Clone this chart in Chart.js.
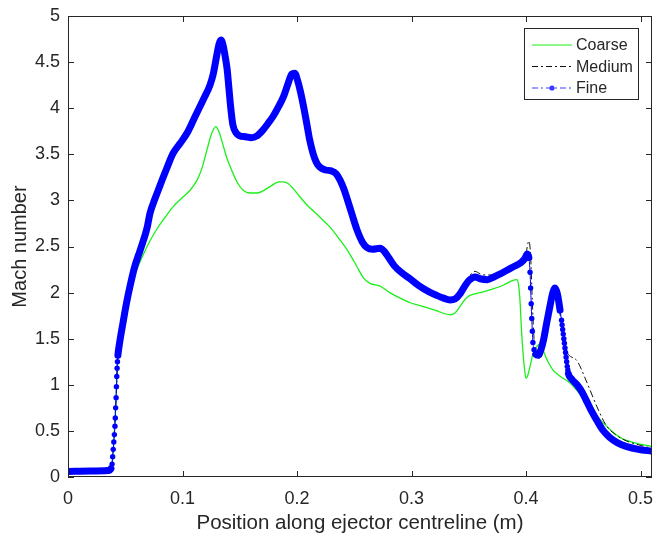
<!DOCTYPE html>
<html>
<head>
<meta charset="utf-8">
<script src="https://cdn.jsdelivr.net/npm/chart.js@4.4.1/dist/chart.umd.min.js"></script>
<style>
  html, body { margin: 0; padding: 0; background: #fff; }
  canvas { display: block; }
</style>
</head>
<body>
<canvas id="machChart" width="653" height="537"></canvas>
<script>
// axis ticks
const xTicks = [0, 0.1, 0.2, 0.3, 0.4, 0.5];
const yTicks = [0, 0.5, 1, 1.5, 2, 2.5, 3, 3.5, 4, 4.5, 5];

const seriesNames = ["Coarse", "Medium", "Fine"];

// Mach number along the centreline, coarse mesh
const coarseX = [0, 0.02, 0.035, 0.0375, 0.0385, 0.04, 0.042, 0.0436, 0.048, 0.054,
  0.06, 0.066, 0.072, 0.0777, 0.085, 0.0917, 0.099, 0.1066, 0.1127, 0.117,
  0.1214, 0.125, 0.129, 0.132, 0.1354, 0.1385, 0.1415, 0.1476, 0.153, 0.159,
  0.165, 0.1764, 0.184, 0.188, 0.1925, 0.1965, 0.2025, 0.2087, 0.219, 0.2288,
  0.2376, 0.245, 0.2524, 0.258, 0.2637, 0.2725, 0.281, 0.29, 0.2987, 0.3074,
  0.3205, 0.3336, 0.338, 0.3424, 0.347, 0.351, 0.36, 0.3712, 0.38, 0.388,
  0.392, 0.3935, 0.3948, 0.396, 0.3974, 0.399, 0.4, 0.4015, 0.4035, 0.406,
  0.4096, 0.412, 0.414, 0.418, 0.4236, 0.43, 0.4384, 0.445, 0.453, 0.4672,
  0.482, 0.495, 0.51];
const coarseY = [0.06, 0.065, 0.07, 0.09, 0.14, 0.38, 0.86, 1.32, 1.67, 2.06,
  2.25, 2.42, 2.57, 2.69, 2.82, 2.93, 3.02, 3.11, 3.22, 3.35,
  3.55, 3.71, 3.80, 3.74, 3.60, 3.47, 3.37, 3.20, 3.11, 3.08,
  3.08, 3.15, 3.20, 3.20, 3.18, 3.13, 3.04, 2.95, 2.83, 2.71,
  2.57, 2.44, 2.28, 2.16, 2.10, 2.07, 2.00, 1.94, 1.89, 1.86,
  1.81, 1.76, 1.78, 1.85, 1.93, 1.97, 2.00, 2.04, 2.08, 2.13,
  2.14, 2.08, 1.90, 1.60, 1.34, 1.14, 1.07, 1.10, 1.20, 1.33,
  1.42, 1.44, 1.40, 1.28, 1.16, 1.09, 1.02, 0.93, 0.80, 0.59,
  0.43, 0.37, 0.33];

// medium mesh
const mediumX = [0, 0.02, 0.035, 0.0375, 0.0385, 0.04, 0.042, 0.0436, 0.048, 0.054,
  0.058, 0.063, 0.069, 0.0716, 0.076, 0.08, 0.086, 0.0917, 0.098, 0.104,
  0.111, 0.118, 0.123, 0.127, 0.13, 0.132, 0.1335, 0.1355, 0.137, 0.139,
  0.1405, 0.142, 0.144, 0.147, 0.15, 0.155, 0.16, 0.165, 0.17, 0.175,
  0.179, 0.184, 0.188, 0.192, 0.196, 0.1988, 0.2012, 0.204, 0.207, 0.2095,
  0.212, 0.215, 0.218, 0.221, 0.226, 0.231, 0.235, 0.2385, 0.2415, 0.2445,
  0.2485, 0.253, 0.2575, 0.2615, 0.2665, 0.273, 0.2765, 0.2805, 0.2855, 0.2905,
  0.299, 0.3075, 0.3155, 0.3225, 0.3285, 0.334, 0.3385, 0.3425, 0.3465, 0.3505,
  0.3555, 0.3605, 0.3665, 0.3725, 0.3775, 0.3835, 0.3895, 0.3955, 0.3995, 0.4025,
  0.404, 0.4055, 0.407, 0.4095, 0.412, 0.416, 0.42, 0.4245, 0.428, 0.431,
  0.4335, 0.437, 0.4445, 0.453, 0.462, 0.47, 0.478, 0.488, 0.498, 0.51];
const mediumY = [0.06, 0.065, 0.07, 0.09, 0.14, 0.38, 0.86, 1.32, 1.67, 2.06,
  2.27, 2.46, 2.70, 2.86, 3.02, 3.15, 3.34, 3.51, 3.62, 3.73,
  3.91, 4.09, 4.20, 4.38, 4.60, 4.73, 4.77, 4.70, 4.60, 4.44,
  4.24, 4.04, 3.84, 3.74, 3.71, 3.70, 3.69, 3.71, 3.76, 3.83,
  3.89, 3.99, 4.09, 4.22, 4.33, 4.36, 4.29, 4.14, 3.95, 3.78,
  3.62, 3.48, 3.40, 3.37, 3.35, 3.34, 3.30, 3.23, 3.13, 3.03,
  2.86, 2.69, 2.56, 2.50, 2.48, 2.49, 2.46, 2.39, 2.30, 2.24,
  2.16, 2.08, 2.02, 1.98, 1.95, 1.94, 1.95, 2.01, 2.10, 2.18,
  2.23, 2.20, 2.19, 2.20, 2.23, 2.26, 2.30, 2.34, 2.40, 2.56,
  2.40, 1.90, 1.50, 1.35, 1.28, 1.45, 1.78, 2.03, 1.95, 1.62,
  1.42, 1.33, 1.26, 1.03, 0.76, 0.56, 0.46, 0.39, 0.35, 0.31];

// fine mesh
const fineX = [0, 0.02, 0.035, 0.0375, 0.0385, 0.039, 0.0395, 0.04, 0.0405, 0.041,
  0.0413, 0.0416, 0.042, 0.0423, 0.0426, 0.0429, 0.0432, 0.0436, 0.045, 0.048,
  0.051, 0.054, 0.058, 0.063, 0.069, 0.0716, 0.076, 0.08, 0.086, 0.0917,
  0.098, 0.104, 0.111, 0.118, 0.124, 0.127, 0.13, 0.132, 0.1336, 0.1355,
  0.137, 0.139, 0.1405, 0.142, 0.144, 0.147, 0.15, 0.155, 0.16, 0.165,
  0.17, 0.175, 0.179, 0.184, 0.188, 0.192, 0.1955, 0.198, 0.2005, 0.203,
  0.206, 0.2087, 0.211, 0.214, 0.217, 0.22, 0.225, 0.23, 0.234, 0.2376,
  0.241, 0.2437, 0.248, 0.2524, 0.257, 0.261, 0.266, 0.2725, 0.276, 0.28,
  0.285, 0.29, 0.2987, 0.307, 0.315, 0.322, 0.328, 0.3336, 0.338, 0.342,
  0.346, 0.35, 0.3555, 0.36, 0.366, 0.372, 0.377, 0.383, 0.389, 0.395,
  0.399, 0.401, 0.4025, 0.4035, 0.404, 0.4045, 0.405, 0.4055, 0.406, 0.407,
  0.4085, 0.4105, 0.413, 0.4155, 0.418, 0.421, 0.423, 0.4253, 0.4275, 0.4297,
  0.431, 0.4315, 0.432, 0.4325, 0.433, 0.4335, 0.434, 0.4345, 0.435, 0.4355,
  0.436, 0.4365, 0.437, 0.44, 0.4445, 0.449,
  0.453, 0.457, 0.462, 0.467, 0.473, 0.48, 0.488, 0.498, 0.51];
const fineY = [0.06, 0.065, 0.07, 0.09, 0.14, 0.22, 0.30, 0.38, 0.46, 0.55,
  0.64, 0.75, 0.86, 0.98, 1.09, 1.18, 1.25, 1.32, 1.45, 1.67,
  1.88, 2.06, 2.27, 2.46, 2.70, 2.86, 3.02, 3.15, 3.34, 3.51,
  3.62, 3.73, 3.91, 4.09, 4.25, 4.38, 4.58, 4.70, 4.74, 4.68,
  4.58, 4.42, 4.22, 4.02, 3.82, 3.73, 3.70, 3.69, 3.68, 3.70,
  3.76, 3.84, 3.91, 4.02, 4.12, 4.26, 4.37, 4.38, 4.30, 4.18,
  4.00, 3.82, 3.66, 3.51, 3.41, 3.36, 3.33, 3.32, 3.29, 3.22,
  3.12, 3.02, 2.85, 2.68, 2.55, 2.49, 2.47, 2.48, 2.45, 2.38,
  2.29, 2.23, 2.15, 2.07, 2.01, 1.97, 1.94, 1.92, 1.93, 1.98,
  2.06, 2.13, 2.17, 2.15, 2.14, 2.17, 2.20, 2.24, 2.28, 2.32,
  2.37, 2.42, 2.38, 2.22, 2.05, 1.88, 1.72, 1.58, 1.46, 1.38,
  1.33, 1.32, 1.38, 1.50, 1.67, 1.86, 1.98, 2.05, 1.98, 1.81,
  1.70, 1.65, 1.60, 1.55, 1.50, 1.45, 1.40, 1.35, 1.30, 1.25,
  1.20, 1.16, 1.12, 1.06, 1.00, 0.92,
  0.82, 0.72, 0.61, 0.51, 0.43, 0.37, 0.33, 0.30, 0.28];

const toPoints = (xs, ys) => xs.map((x, i) => ({ x: x, y: ys[i] }));

// stretches where the fine-mesh samples are spread out, drawn as a thin line with dots
const sparseSpans = [[0.0375, 0.0437], [0.4025, 0.409], [0.4297, 0.4371]];
const inSparse = (a, b) => sparseSpans.some(s => a >= s[0] && b <= s[1]);

const INK = "#262626";
const FONT = "'Liberation Sans', Arial, Helvetica, sans-serif";
Chart.defaults.font.family = FONT;
Chart.defaults.color = INK;

// box round the plot with inward ticks on all four sides
const axesBox = {
  id: "axesBox",
  afterDatasetsDraw(chart) {
    const { ctx, chartArea: a, scales } = chart;
    const len = 6;
    ctx.save();
    ctx.strokeStyle = INK;
    ctx.lineWidth = 1;
    ctx.strokeRect(a.left + 0.5, a.top + 0.5, a.right - a.left - 1, a.bottom - a.top - 1);
    ctx.beginPath();
    xTicks.forEach(v => {
      const px = Math.round(scales.x.getPixelForValue(v)) + 0.5;
      ctx.moveTo(px, a.bottom); ctx.lineTo(px, a.bottom - len);
      ctx.moveTo(px, a.top); ctx.lineTo(px, a.top + len);
    });
    yTicks.forEach(v => {
      const py = Math.round(scales.y.getPixelForValue(v)) + 0.5;
      ctx.moveTo(a.left, py); ctx.lineTo(a.left + len, py);
      ctx.moveTo(a.right, py); ctx.lineTo(a.right - len, py);
    });
    ctx.stroke();
    ctx.restore();
  }
};

// legend box in the top right corner of the axes
const cornerLegend = {
  id: "cornerLegend",
  afterDraw(chart) {
    const { ctx, chartArea: a } = chart;
    const w = 115, h = 72;
    const x0 = a.right - 13 - w, y0 = a.top + 12;
    ctx.save();
    ctx.fillStyle = "#fff";
    ctx.fillRect(x0, y0, w, h);
    ctx.strokeStyle = INK;
    ctx.lineWidth = 1;
    ctx.strokeRect(x0 + 0.5, y0 + 0.5, w - 1, h - 1);
    seriesNames.forEach((name, i) => {
      const ds = chart.data.datasets.find(d => d.label === name);
      const cy = y0 + 17 + i * 21.5;
      const lx0 = x0 + 8, lx1 = x0 + 48;
      ctx.strokeStyle = ds.legendColor;
      ctx.lineWidth = 1.2;
      ctx.setLineDash(ds.legendDash);
      ctx.beginPath();
      ctx.moveTo(lx0, cy);
      ctx.lineTo(lx1, cy);
      ctx.stroke();
      ctx.setLineDash([]);
      if (ds.legendDot) {
        ctx.fillStyle = ds.legendColor;
        ctx.beginPath();
        ctx.arc((lx0 + lx1) / 2, cy, 2.6, 0, Math.PI * 2);
        ctx.fill();
      }
      ctx.fillStyle = INK;
      ctx.font = "16px " + FONT;
      ctx.textBaseline = "middle";
      ctx.textAlign = "left";
      ctx.fillText(name, lx1 + 4, cy + 1);
    });
    ctx.restore();
  }
};

new Chart(document.getElementById("machChart"), {
  type: "scatter",
  data: {
    datasets: [
      {
        label: seriesNames[2],
        data: toPoints(fineX, fineY),
        showLine: true,
        cubicInterpolationMode: "monotone",
        order: 0,
        borderColor: "#0000ff",
        borderWidth: 7,
        borderJoinStyle: "round",
        borderCapStyle: "round",
        pointRadius: 2.7,
        pointBackgroundColor: "#0000ff",
        pointBorderWidth: 0,
        segment: {
          borderWidth: c => inSparse(c.p0.parsed.x, c.p1.parsed.x) ? 1 : 7
        },
        legendColor: "#3a3aff",
        legendDash: [6, 3, 2, 3],
        legendDot: true
      },
      {
        label: seriesNames[1],
        data: toPoints(mediumX, mediumY),
        showLine: true,
        cubicInterpolationMode: "monotone",
        order: 1,
        borderColor: "#111",
        borderWidth: 1,
        borderDash: [7, 3, 2, 3],
        pointRadius: 0,
        legendColor: "#111",
        legendDash: [6, 3, 2, 3]
      },
      {
        label: seriesNames[0],
        data: toPoints(coarseX, coarseY),
        showLine: true,
        cubicInterpolationMode: "monotone",
        order: 2,
        borderColor: "#19f019",
        borderWidth: 1.3,
        pointRadius: 0,
        legendColor: "#19f019",
        legendDash: []
      }
    ]
  },
  options: {
    responsive: false,
    animation: false,
    layout: { autoPadding: false, padding: { top: 16, right: 1, bottom: 0, left: 0 } },
    plugins: {
      legend: { display: false },
      tooltip: { enabled: false }
    },
    scales: {
      x: {
        type: "linear",
        min: 0,
        max: 0.51,
        afterBuildTicks: s => { s.ticks = xTicks.map(v => ({ value: v })); },
        afterFit: s => { s.height = 60; s.paddingLeft = 0; s.paddingRight = 0; },
        grid: { display: false, drawTicks: false },
        border: { display: false },
        ticks: { padding: 11, maxRotation: 0, font: { size: 18 }, callback: v => String(v) },
        title: { display: true, text: "Position along ejector centreline (m)", font: { size: 20.5 }, padding: { top: 0, bottom: 1 } }
      },
      y: {
        type: "linear",
        min: 0,
        max: 5,
        afterBuildTicks: s => { s.ticks = yTicks.map(v => ({ value: v })); },
        afterFit: s => { s.width = 68; s.paddingTop = 0; s.paddingBottom = 0; },
        grid: { display: false, drawTicks: false },
        border: { display: false },
        ticks: { padding: 8, font: { size: 18 }, callback: v => String(v) },
        title: { display: true, text: "Mach number", font: { size: 20 }, padding: { top: 8, bottom: 0 } }
      }
    }
  },
  plugins: [axesBox, cornerLegend]
});
</script>
</body>
</html>
